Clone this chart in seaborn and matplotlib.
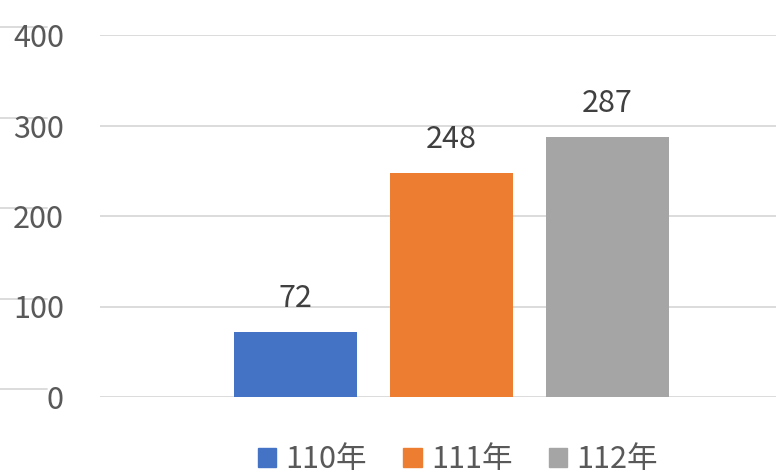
import numpy as np
import pandas as pd
import matplotlib
matplotlib.use("Agg")
import matplotlib.pyplot as plt
import matplotlib.transforms as mtransforms
import seaborn as sns

# data
years = ["110年", "111年", "112年"]
counts = [72, 248, 287]
colors = ["#4472C4", "#ED7D31", "#A5A5A5"]
yticks = [0, 100, 200, 300, 400]

df = pd.DataFrame({"year": years, "count": counts})

sns.set_theme(style="white")
plt.rcParams["font.family"] = ["Noto Sans CJK TC", "DejaVu Sans"]

fig = plt.figure(figsize=(7.76, 4.74), dpi=100)
ax = fig.add_axes([100 / 776, 1 - 397 / 474, 1 - 100 / 776, (397 - 35) / 474])

sns.barplot(data=df, x="year", y="count", hue="year", palette=colors,
            width=0.79, dodge=False, legend=False, ax=ax, saturation=1,
            linewidth=0)

ax.set_xlim(-1.253, 3.08)
ax.set_ylim(0, 400)
ax.set_yticks(yticks)
ax.set_yticklabels([str(t) for t in yticks])
ax.set_xticks([])
ax.set_xlabel("")
ax.set_ylabel("")
ax.tick_params(axis="y", length=0, pad=26, labelsize=22, labelcolor="#595959")
ax.yaxis.grid(True, color="#D9D9D9", linewidth=1.3)
ax.set_axisbelow(True)
for s in ax.spines.values():
    s.set_visible(False)

for c in ax.containers:
    ax.bar_label(c, padding=13, fontsize=22, color="#404040")

# faint line fragments behind the tick labels
trans = mtransforms.blended_transform_factory(fig.transFigure, ax.transData)
trans = mtransforms.offset_copy(trans, fig=fig, y=8, units="dots")
for t in yticks:
    ax.plot([0, 47 / 776], [t, t], transform=trans, color="#D9D9D9",
            linewidth=1.3, clip_on=False, zorder=0.4)

handles = [plt.Rectangle((0, 0), 1, 1, color=c) for c in colors]
fig.legend(handles, years, loc="center", bbox_to_anchor=(0.59, 14 / 474),
           ncol=3, frameon=False, fontsize=22, labelcolor="#595959",
           handlelength=0.6, handleheight=0.6, handletextpad=0.3,
           columnspacing=1.2)

fig.savefig("out.png", dpi=100)
